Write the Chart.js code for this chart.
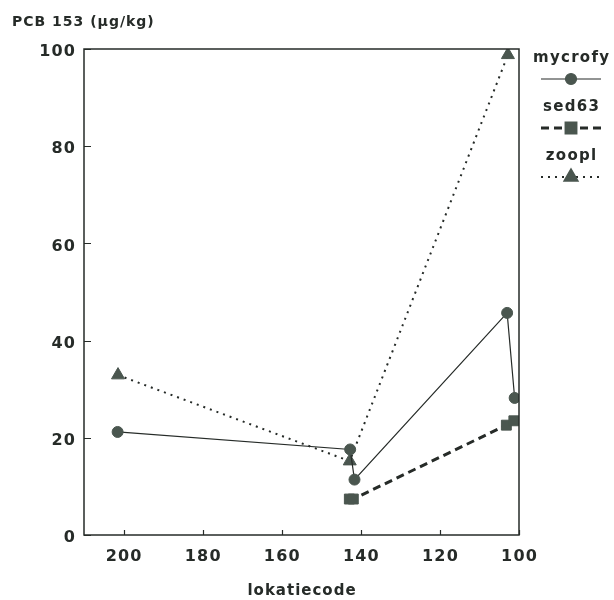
<!DOCTYPE html>
<html>
<head>
<meta charset="utf-8">
<script src="https://cdn.jsdelivr.net/npm/chart.js@4.4.1/dist/chart.umd.min.js"></script>
<style>
  html, body { margin: 0; padding: 0; background: #fff; }
</style>
</head>
<body>
<canvas id="pcb" width="614" height="600"></canvas>
<script>
// PCB 153 per lokatiecode, one pair of arrays per matrix
const mycrofyCode = [201.5, 142.7, 141.6, 103.0, 101.1];
const mycrofyPcb = [21.2, 17.6, 11.4, 45.7, 28.2];
const sed63Code = [142.9, 141.9, 103.2, 101.3];
const sed63Pcb = [7.4, 7.4, 22.6, 23.5];
const zooplCode = [201.4, 142.8, 102.8];
const zooplPcb = [32.9, 15.2, 98.8];

const xTicks = [200, 180, 160, 140, 120, 100];
const yTicks = [0, 20, 40, 60, 80, 100];

const yTitle = 'PCB 153 (µg/kg)';
const xTitle = 'lokatiecode';

const ink = '#262b28';
const markerFill = '#4a564f';
const FONT = '"DejaVu Sans", sans-serif';

function pts(xs, ys) {
  return xs.map((x, i) => ({ x: x, y: ys[i] }));
}

// fillText with letter spacing, trailing gap removed before aligning
function spacedText(ctx, text, x, y, align, spacing) {
  ctx.letterSpacing = spacing + 'px';
  const w = ctx.measureText(text).width - spacing;
  let left = x;
  if (align === 'right') left = x - w;
  if (align === 'center') left = x - w / 2;
  ctx.textAlign = 'left';
  ctx.fillText(text, left, y);
  ctx.letterSpacing = '0px';
}

const series = [
  { label: 'mycrofy', code: mycrofyCode, val: mycrofyPcb, style: 'circle', radius: 5.5, dash: [], width: 1.2 },
  { label: 'sed63', code: sed63Code, val: sed63Pcb, style: 'rect', radius: 7, dash: [8, 5], width: 3 },
  { label: 'zoopl', code: zooplCode, val: zooplPcb, style: 'triangle', radius: 7.5, dash: [2, 5], width: 2 }
];

// frame, inward ticks, labels and the legend column on the right
const decorations = {
  id: 'decorations',
  afterDraw(chart) {
    const ctx = chart.ctx;
    const a = chart.chartArea;
    const xs = chart.scales.x;
    const ys = chart.scales.y;
    ctx.save();
    ctx.strokeStyle = ink;
    ctx.lineWidth = 1.5;
    ctx.setLineDash([]);
    ctx.strokeRect(a.left, a.top, a.right - a.left, a.bottom - a.top);

    ctx.lineWidth = 1.2;
    ctx.beginPath();
    xTicks.forEach(v => {
      const px = Math.round(xs.getPixelForValue(v)) + 0.5;
      ctx.moveTo(px, a.bottom);
      ctx.lineTo(px, a.bottom - 5);
    });
    yTicks.forEach(v => {
      const py = Math.round(ys.getPixelForValue(v)) + 0.5;
      ctx.moveTo(a.left, py);
      ctx.lineTo(a.left + 7, py);
    });
    ctx.stroke();

    ctx.fillStyle = ink;
    ctx.textBaseline = 'middle';
    ctx.font = 'bold 16px ' + FONT;
    yTicks.forEach(v => spacedText(ctx, String(v), 75, ys.getPixelForValue(v) + 3, 'right', 1.2));
    xTicks.forEach(v => spacedText(ctx, String(v), xs.getPixelForValue(v), 557, 'center', 1.2));

    ctx.font = 'bold 15px ' + FONT;
    spacedText(ctx, xTitle, (a.left + a.right) / 2, 591, 'center', 1);
    ctx.font = 'bold 14px ' + FONT;
    spacedText(ctx, yTitle, 12, 22, 'left', 1);

    // legend
    const lx = 571;
    series.forEach((s, i) => {
      const ty = 58 + i * 49;
      const sy = ty + 21;
      ctx.font = 'bold 15px ' + FONT;
      ctx.fillStyle = ink;
      spacedText(ctx, s.label, lx, ty, 'center', 1.3);
      ctx.strokeStyle = ink;
      ctx.lineWidth = s.width;
      ctx.setLineDash(s.dash);
      ctx.beginPath();
      ctx.moveTo(lx - 30, sy);
      ctx.lineTo(lx + 30, sy);
      ctx.stroke();
      ctx.setLineDash([]);
      ctx.fillStyle = markerFill;
      ctx.strokeStyle = markerFill;
      Chart.helpers.drawPoint(ctx, { pointStyle: s.style, radius: s.radius, rotation: 0, borderWidth: 1 }, lx, sy);
    });
    ctx.restore();
  }
};

new Chart(document.getElementById('pcb').getContext('2d'), {
  type: 'scatter',
  data: {
    datasets: series.map(s => ({
      label: s.label,
      data: pts(s.code, s.val),
      showLine: true,
      borderColor: ink,
      borderWidth: s.width,
      borderDash: s.dash,
      pointStyle: s.style,
      pointRadius: s.radius,
      pointBackgroundColor: markerFill,
      pointBorderColor: markerFill,
      pointBorderWidth: 1
    }))
  },
  options: {
    responsive: false,
    animation: false,
    devicePixelRatio: 1,
    layout: { padding: { top: 49, right: 95, left: 0, bottom: 0 } },
    plugins: { legend: { display: false }, tooltip: { enabled: false } },
    scales: {
      x: {
        type: 'linear', min: 100, max: 210, reverse: true,
        ticks: { display: false }, grid: { display: false }, border: { display: false },
        afterFit(s) { s.height = 65; }
      },
      y: {
        type: 'linear', min: 0, max: 100,
        ticks: { display: false }, grid: { display: false }, border: { display: false },
        afterFit(s) { s.width = 84; }
      }
    }
  },
  plugins: [decorations]
});
</script>
</body>
</html>
